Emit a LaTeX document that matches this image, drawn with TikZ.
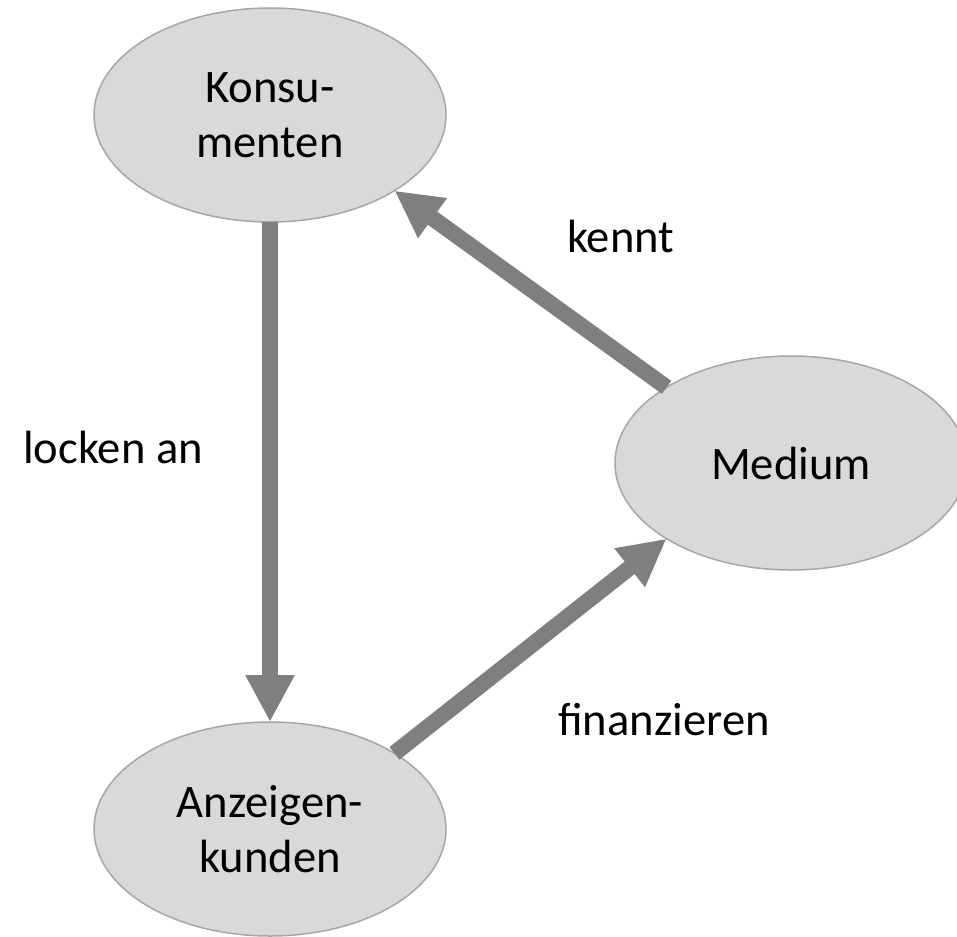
\documentclass[tikz,border=0pt]{standalone}
\usepackage{fontspec}
\setmainfont{Carlito}
\usetikzlibrary{arrows.meta,shapes.geometric}
\definecolor{bubblefill}{HTML}{D9D9D9}
\definecolor{bubbleline}{HTML}{A6A6A6}
\definecolor{arrowgray}{HTML}{7F7F7F}
\tikzset{
  bubble/.style={ellipse, draw=bubbleline, line width=1.5pt, fill=bubblefill,
    minimum width=352pt, minimum height=214pt, inner sep=0pt, outer sep=0pt,
    align=center, font=\fontsize{46.6pt}{55pt}\selectfont},
  flow/.style={draw=arrowgray, line width=16pt,
    -{Triangle[length=47pt,width=46pt]}},
  caption/.style={anchor=base west, inner sep=0pt,
    font=\fontsize{46.6pt}{55pt}\selectfont}
}
\begin{document}
\begin{tikzpicture}[x=1pt,y=-1pt]
  \useasboundingbox (0,0) rectangle (957,936);
  % the three parties
  \node[bubble] (kons) at (270,115) {Konsu-\\menten};
  \node[bubble] (med)  at (791,463) {Medium};
  \node[bubble] (anz)  at (270,829) {Anzeigen-\\kunden};
  % relations between them
  \draw[flow] (kons.south) -- (anz.north);
  \draw[flow] (med.north west) -- (kons.south east);
  \draw[flow] (anz.north east) -- (med.south west);
  % relation labels
  \node[caption] (lbl-kennt) at (567,252) {kennt};
  \node[caption] (lbl-locken) at (23,463) {locken an};
  \node[caption] (lbl-fin) at (558,735) {finanzieren};
\end{tikzpicture}
\end{document}
